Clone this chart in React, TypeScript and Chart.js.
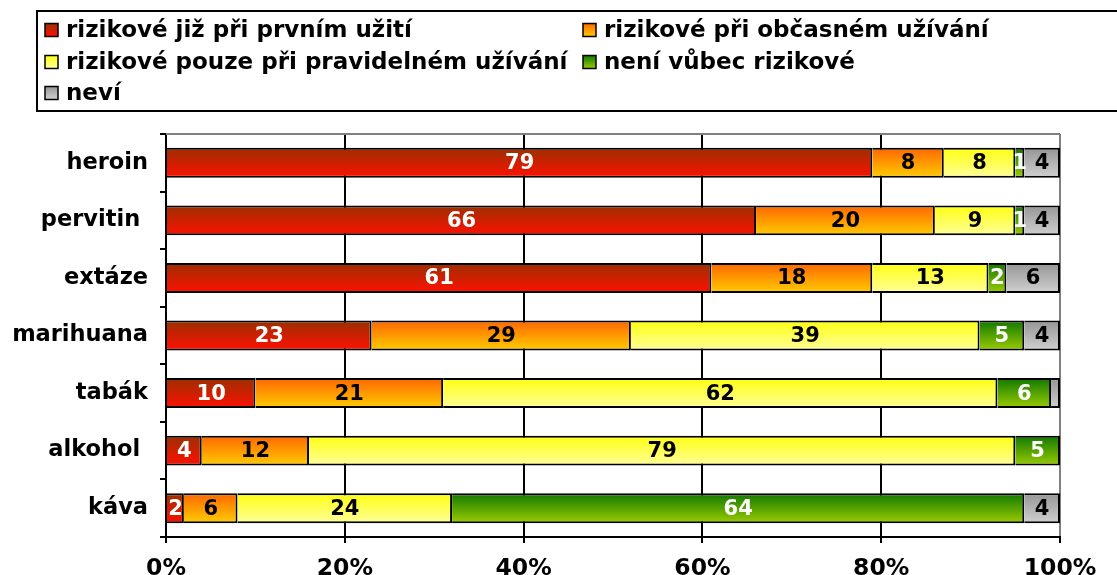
import React, { useEffect, useRef } from 'react';
import { Chart, registerables } from 'chart.js';

Chart.register(...registerables);

const categories = ['heroin', 'pervitin ', 'extáze', 'marihuana', 'tabák', 'alkohol ', 'káva'];
const seriesNames = [
  'rizikové již při prvním užití',
  'rizikové při občasném užívání',
  'rizikové pouze při pravidelném užívání',
  'není vůbec rizikové',
  'neví',
];
const firstUse = [79, 66, 61, 23, 10, 4, 2];
const occasional = [8, 20, 18, 29, 21, 12, 6];
const regular = [8, 9, 13, 39, 62, 79, 24];
const notRisky = [1, 1, 2, 5, 6, 5, 64];
const dontKnow = [4, 4, 6, 4, 1, 0, 4];
const seriesValues = [firstUse, occasional, regular, notRisky, dontKnow];
// [series, category] pairs whose value label is not shown in the original
const unlabeled = [[4, 4]];
const xTickValues = [0, 20, 40, 60, 80, 100];

const gradientStops: [string, string][] = [
  ['#9a3000', '#ff1000'],
  ['#ff6600', '#ffcc00'],
  ['#ffff10', '#ffff99'],
  ['#107800', '#9acc00'],
  ['#959595', '#d0d0d0'],
];
const labelColors = ['#ffffff', '#000000', '#000000', '#ffffff', '#000000'];

const FONT = '"DejaVu Sans", Verdana, sans-serif';
const BAR_FRACTION = 0.52;

function makeGradient(idx: number) {
  return (c: any) => {
    const chart = c.chart;
    const ys = chart.scales && chart.scales.y;
    const [top, bottom] = gradientStops[idx];
    if (!ys || c.type !== 'data' || !isFinite(ys.top)) return top;
    const band = (ys.bottom - ys.top) / categories.length;
    const center = ys.getPixelForValue(c.dataIndex);
    const h = (band * BAR_FRACTION) / 2;
    const g = chart.ctx.createLinearGradient(0, center - h, 0, center + h);
    g.addColorStop(0, top);
    g.addColorStop(1, bottom);
    return g;
  };
}

const valueLabelPlugin = {
  id: 'valueLabels',
  afterDatasetsDraw(chart: any) {
    const ctx = chart.ctx;
    ctx.save();
    ctx.font = `bold 21px ${FONT}`;
    ctx.textAlign = 'center';
    ctx.textBaseline = 'middle';
    chart.data.datasets.forEach((ds: any, di: number) => {
      const meta = chart.getDatasetMeta(di);
      meta.data.forEach((el: any, i: number) => {
        const v = ds.data[i];
        if (!v) return;
        if (unlabeled.some(([s, c]) => s === di && c === i)) return;
        const x = (el.x + el.base) / 2;
        ctx.fillStyle = labelColors[di];
        ctx.fillText(String(v), x, el.y + 1);
      });
    });
    ctx.restore();
  },
};

const frameLegendPlugin = {
  id: 'frameLegend',
  afterDraw(chart: any) {
    const ctx = chart.ctx;
    const area = chart.chartArea;
    ctx.save();
    // top border of plot area
    ctx.strokeStyle = '#808080';
    ctx.lineWidth = 2;
    ctx.beginPath();
    ctx.moveTo(area.left, area.top);
    ctx.lineTo(area.right, area.top);
    ctx.stroke();

    // legend box
    ctx.strokeStyle = '#000';
    ctx.lineWidth = 2;
    ctx.strokeRect(37, 11, 1100, 100);
    const colX = [45, 583];
    const rowY = [30, 62, 93];
    ctx.font = `bold 23px ${FONT}`;
    ctx.textBaseline = 'middle';
    ctx.textAlign = 'left';
    seriesNames.forEach((name, i) => {
      const x = colX[i % 2];
      const y = rowY[Math.floor(i / 2)];
      const s = 13;
      const g = ctx.createLinearGradient(0, y - s / 2, 0, y + s / 2);
      g.addColorStop(0, gradientStops[i][0]);
      g.addColorStop(1, gradientStops[i][1]);
      ctx.fillStyle = g;
      ctx.fillRect(x, y - s / 2, s, s);
      ctx.lineWidth = 1.5;
      ctx.strokeStyle = '#000';
      ctx.strokeRect(x, y - s / 2, s, s);
      ctx.fillStyle = '#000';
      ctx.fillText(name, x + 21, y + 1);
    });
    ctx.restore();
  },
};

export default function App() {
  const ref = useRef<HTMLCanvasElement | null>(null);
  useEffect(() => {
    if (!ref.current) return;
    Chart.defaults.font.family = FONT;
    const chart = new Chart(ref.current, {
      type: 'bar',
      data: {
        labels: categories,
        datasets: seriesValues.map((vals, i) => ({
          label: seriesNames[i],
          data: vals,
          backgroundColor: makeGradient(i),
          borderColor: '#000',
          borderWidth: 2,
          borderSkipped: 'start',
          categoryPercentage: 1,
          barPercentage: BAR_FRACTION,
        })),
      },
      options: {
        indexAxis: 'y',
        animation: false,
        responsive: true,
        maintainAspectRatio: false,
        layout: { padding: { top: 134, right: 57, left: 0, bottom: 0 } },
        plugins: {
          legend: { display: false },
          tooltip: { enabled: false },
          title: { display: false },
        },
        scales: {
          x: {
            stacked: true,
            min: 0,
            max: 100,
            afterBuildTicks: (scale: any) => {
              scale.ticks = xTickValues.map((v) => ({ value: v }));
            },
            afterFit: (scale: any) => {
              scale.height = 38;
            },
            ticks: {
              callback: (v: any) => `${v}%`,
              color: '#000',
              font: { size: 23.5, weight: 'bold', family: FONT },
              padding: 12,
              maxRotation: 0,
            },
            grid: {
              color: (c: any) => (c.tick && c.tick.value === 100 ? '#808080' : '#000'),
              tickColor: '#000',
              lineWidth: 2,
              tickLength: 6,
              drawTicks: true,
            },
            border: { color: '#000', width: 2 },
          },
          y: {
            stacked: true,
            afterFit: (scale: any) => {
              scale.width = 166;
            },
            ticks: {
              color: '#000',
              font: { size: 22.5, weight: 'bold', family: FONT },
              padding: 12,
            },
            grid: {
              drawOnChartArea: false,
              drawTicks: true,
              tickLength: 6,
              tickColor: '#000',
              lineWidth: 2,
              offset: true,
            },
            border: { color: '#000', width: 2 },
          },
        },
      },
      plugins: [valueLabelPlugin, frameLegendPlugin],
    } as any);
    return () => chart.destroy();
  }, []);
  return (
    <div style={{ position: 'fixed', left: 0, top: 0, width: 1117, height: 575, background: '#fff' }}>
      <canvas ref={ref} />
    </div>
  );
}
